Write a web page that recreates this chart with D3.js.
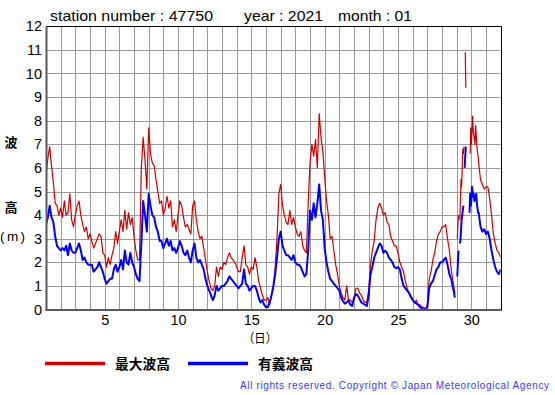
<!DOCTYPE html>
<html><head><meta charset="utf-8">
<script src="https://cdn.jsdelivr.net/npm/d3@7"></script>
<style>
html,body{margin:0;padding:0;background:#fff;}
svg{display:block;}
</style>
</head><body>
<script>
// ---- data ----
const titleParts = ["station number : 47750", "year : 2021", "month : 01"];
const yTicks = [0,1,2,3,4,5,6,7,8,9,10,11,12];
const xTicks = [5,10,15,20,25,30];
const legendLabels = ["最大波高", "有義波高"];

// Part A: every 3 hours from day 1 00:00 (hour 0) to hour 666
const maxA = [
5.7,6.4,6.9,6.1,5.4,4.5,4.4,4.0,4.3,3.9,
4.6,4.0,4.1,4.9,3.8,3.5,4.0,4.4,4.6,4.0,
3.6,3.3,3.5,3.0,3.2,2.9,2.6,2.8,3.0,3.2,
3.1,2.4,2.3,1.8,2.2,1.9,2.3,2.6,3.3,2.8,
3.3,3.8,3.3,4.2,3.4,4.1,3.6,3.9,3.1,2.5,
2.1,2.1,6.0,7.3,6.3,5.1,7.7,6.6,6.2,6.1,
5.5,5.0,4.5,4.6,4.0,4.3,4.8,4.3,4.6,3.5,
3.8,3.3,4.0,4.6,4.4,3.9,3.5,3.6,3.4,3.2,
4.4,4.6,3.8,3.3,3.0,3.1,2.6,2.1,1.6,1.2,
0.9,0.8,1.0,1.8,1.4,1.8,1.7,2.0,1.9,2.2,
2.4,2.2,2.1,2.0,1.8,1.6,1.6,2.2,2.7,1.9,
1.8,1.5,1.8,1.7,2.2,1.8,1.2,0.9,0.6,0.4,
0.4,0.5,0.2,0.6,0.9,1.8,3.0,4.9,5.3,4.4,
4.0,3.7,3.6,4.2,3.6,3.9,3.5,3.2,3.1,3.3,
2.7,2.5,2.4,4.5,6.2,7.0,6.5,7.2,6.0,8.3,
7.3,6.7,5.6,4.6,4.0,3.0,3.1,2.5,1.9,1.5,
1.0,0.7,0.5,0.4,1.0,0.4,0.4,0.3,0.4,0.9,
0.9,0.7,0.6,0.4,0.3,0.3,0.8,1.9,2.5,2.9,
3.8,4.3,4.5,4.3,4.0,4.1,3.7,3.6,3.1,2.9,
2.7,2.7,2.4,2.0,1.8,1.6,1.2,0.9,0.7,0.5,
0.4,0.3,0.4,0.2,0.2,0.1,0.1,0.0,0.2,1.3,
1.6,2.1,2.4,2.9,3.2,3.3,3.5,3.5,3.6,3.0,
2.5,1.7,1.2];
const sigA = [
3.6,3.9,4.4,3.9,3.7,3.1,2.7,2.6,2.5,2.6,
2.5,2.7,2.3,2.8,2.5,2.4,2.4,2.6,2.8,2.5,
2.1,2.2,2.0,1.9,1.9,1.9,1.6,1.7,1.8,2.0,
1.8,1.6,1.3,1.1,1.2,1.3,1.3,1.7,1.9,1.6,
1.8,2.1,1.7,2.5,2.0,1.9,2.4,2.0,1.8,1.5,
1.3,1.2,2.8,4.6,4.0,3.3,4.9,4.4,4.0,3.9,
3.5,3.3,2.9,2.9,2.6,2.8,3.0,2.7,2.9,2.5,
2.6,2.4,2.6,2.9,2.7,2.4,2.3,2.5,2.2,2.0,
2.5,2.8,2.2,2.0,2.1,1.9,1.7,1.3,1.0,0.8,
0.6,0.4,0.6,1.0,0.8,0.9,1.0,1.0,1.1,1.2,
1.4,1.3,1.2,1.1,1.0,0.9,1.0,1.1,1.7,1.1,
1.0,0.8,0.9,1.0,1.0,0.8,0.5,0.3,0.4,0.2,
0.1,0.1,0.3,0.6,1.0,1.5,2.2,3.0,3.3,2.7,
2.5,2.3,2.3,2.2,2.1,2.3,2.0,1.9,1.9,1.8,
1.6,1.4,1.5,2.5,4.2,3.8,4.5,3.9,4.5,5.3,
4.2,3.8,2.6,2.0,1.6,1.3,1.2,1.1,1.0,0.9,
0.8,0.5,0.35,0.25,0.3,0.4,0.2,0.15,0.5,0.65,
0.6,0.45,0.3,0.25,0.2,0.15,0.6,1.5,1.8,2.2,
2.4,2.6,2.8,2.7,2.4,2.5,2.4,2.2,2.1,2.0,
1.8,1.75,1.8,1.7,1.3,1.0,0.9,0.8,0.7,0.55,
0.4,0.3,0.25,0.2,0.1,0.05,0,0,0.1,0.9,
1.1,1.2,1.45,1.7,1.8,2.0,2.0,2.1,2.2,1.9,
1.5,1.3,0.9];
// Part B: hourly, hour 667 to 707 (null = missing)
const maxB = [1.0,0.85,0.7,null,null,null,3.0,3.6,4.0,null,
3.8,4.5,5.5,5.2,6.0,6.8,6.6,6.9,null,10.9,9.4,
null,null,null,null,null,null,
6.6,7.7,7.0,7.5,8.2,7.6,7.4,7.2,7.0,7.8,7.4,6.9,6.7,6.5];
const sigB = [0.8,0.65,0.5,null,null,null,1.4,2.0,2.5,null,
2.8,2.9,3.3,3.8,4.0,4.2,4.4,null,6.0,6.5,6.9,
null,null,null,null,null,
4.1,4.9,4.4,4.6,5.2,5.0,4.8,4.9,4.6,4.7,4.8,4.9,4.5,4.3,4.1];
// Part C: every 3 hours, hour 708 to 744
const maxC = [6.2,5.5,5.3,5.1,5.2,5.2,4.7,4.0,3.2,2.8,2.5,2.4,2.2];
const sigC = [4.1,3.5,3.3,3.4,3.2,3.3,3.0,2.5,2.1,1.8,1.6,1.5,1.7];

function buildSeries(a, b, c) {
  const out = [];
  a.forEach((v, i) => out.push({h: i * 3, v}));
  b.forEach((v, j) => out.push({h: 667 + j, v}));
  c.forEach((v, k) => out.push({h: 708 + k * 3, v}));
  return out.map(d => ({day: 1 + d.h / 24, v: d.v}));
}
const maxSeries = buildSeries(maxA, maxB, maxC);
const sigSeries = buildSeries(sigA, sigB, sigC);

// ---- chart ----
const W = 555, H = 395;
const L = 46, R = 500.7, T = 26.3, B = 309.5;
const svg = d3.select("body").append("svg").attr("width", W).attr("height", H);
svg.append("rect").attr("width", W).attr("height", H).attr("fill", "#fff");

const x = d3.scaleLinear().domain([1, 32]).range([L, R]);
const y = d3.scaleLinear().domain([0, 12]).range([B, T]);
const px = v => Math.round(v) + 0.5;

// grid
const grid = svg.append("g").attr("stroke", "#9a9a9a").attr("stroke-width", 1);
d3.range(2, 32).forEach(d => {
  grid.append("line").attr("x1", px(x(d))).attr("x2", px(x(d))).attr("y1", y(12)).attr("y2", y(0));
});
d3.range(1, 12).forEach(v => {
  grid.append("line").attr("x1", x(1)).attr("x2", x(32)).attr("y1", px(y(v))).attr("y2", px(y(v)));
});

// data lines
svg.append("clipPath").attr("id", "clip").append("rect")
  .attr("x", L).attr("y", T).attr("width", R - L).attr("height", B - T);
const line = d3.line().defined(d => d.v != null).x(d => x(d.day)).y(d => y(d.v));
const lines = svg.append("g").attr("clip-path", "url(#clip)");
lines.append("path").datum(maxSeries).attr("d", line)
  .attr("fill", "none").attr("stroke", "#cc0000").attr("stroke-width", 1.2).attr("stroke-linejoin", "round");
lines.append("path").datum(sigSeries).attr("d", line)
  .attr("fill", "none").attr("stroke", "#0000ff").attr("stroke-width", 2).attr("stroke-linejoin", "round");

// frame: top/right thin black, left/bottom thick grey
svg.append("line").attr("x1", L).attr("x2", px(R)).attr("y1", px(T)).attr("y2", px(T)).attr("stroke", "#000");
svg.append("line").attr("x1", px(R)).attr("x2", px(R)).attr("y1", px(T)).attr("y2", B + 1).attr("stroke", "#000");
svg.append("line").attr("x1", L + 0.5).attr("x2", L + 0.5).attr("y1", T).attr("y2", B + 1.5).attr("stroke", "#5a5a5a").attr("stroke-width", 2);
svg.append("line").attr("x1", L - 0.5).attr("x2", px(R)).attr("y1", B + 0.5).attr("y2", B + 0.5).attr("stroke", "#5a5a5a").attr("stroke-width", 2);

// axes (labels only)
const font = "'Liberation Sans', Arial, sans-serif";
const yAxis = svg.append("g").attr("transform", `translate(${L},0)`)
  .call(d3.axisLeft(y).tickValues(yTicks).tickSize(0).tickPadding(4).tickFormat(d3.format("d")));
yAxis.select(".domain").remove();
yAxis.selectAll("text").attr("font-family", font).attr("font-size", 14.5).attr("fill", "#000");

const xAxis = svg.append("g").attr("transform", `translate(0,${B})`)
  .call(d3.axisBottom(x).tickValues(xTicks).tickSize(0).tickPadding(5).tickFormat(d3.format("d")));
xAxis.select(".domain").remove();
xAxis.selectAll("text").attr("font-family", font).attr("font-size", 14.5).attr("fill", "#000");

// title
const titleX = [50, 244, 338], titleW = [163, 79, 74];
titleParts.forEach((t, i) => {
  svg.append("text").attr("x", titleX[i]).attr("y", 21).text(t)
    .attr("font-family", font).attr("font-size", 14.5)
    .attr("textLength", titleW[i]).attr("lengthAdjust", "spacingAndGlyphs");
});

// axis titles
const cjk = "'Noto Sans CJK JP', 'Noto Sans CJK SC', sans-serif";
svg.append("text").attr("x", 260).attr("y", 343).attr("text-anchor", "middle")
  .attr("font-family", cjk).attr("font-size", 12.5).text("（日）")
  .attr("textLength", 34).attr("lengthAdjust", "spacingAndGlyphs");
svg.append("text").attr("x", 11).attr("y", 147).attr("text-anchor", "middle")
  .attr("font-family", cjk).attr("font-size", 13).attr("font-weight", "bold").text("波");
svg.append("text").attr("x", 11).attr("y", 212).attr("text-anchor", "middle")
  .attr("font-family", cjk).attr("font-size", 13).attr("font-weight", "bold").text("高");
svg.append("text").attr("x", 0).attr("y", 240.5)
  .attr("font-family", font).attr("font-size", 13.5).text("(m)")
  .attr("textLength", 25).attr("lengthAdjust", "spacing");

// legend
const legColors = ["#cc0000", "#0000ff"];
const legX = [45, 188];
legendLabels.forEach((t, i) => {
  svg.append("line").attr("x1", legX[i]).attr("x2", legX[i] + 60).attr("y1", 363.5).attr("y2", 363.5)
    .attr("stroke", legColors[i]).attr("stroke-width", 3.5);
  svg.append("text").attr("x", legX[i] + 70).attr("y", 368.5)
    .attr("font-family", cjk).attr("font-size", 13.5).attr("font-weight", "bold").text(t)
    .attr("textLength", 55).attr("lengthAdjust", "spacingAndGlyphs");
});

// copyright
svg.append("text").attr("x", 240).attr("y", 388.5)
  .attr("font-family", font).attr("font-size", 10).attr("fill", "#3a3aee")
  .text("All rights reserved. Copyright © Japan Meteorological Agency")
  .attr("textLength", 309).attr("lengthAdjust", "spacing");
</script>
</body></html>
